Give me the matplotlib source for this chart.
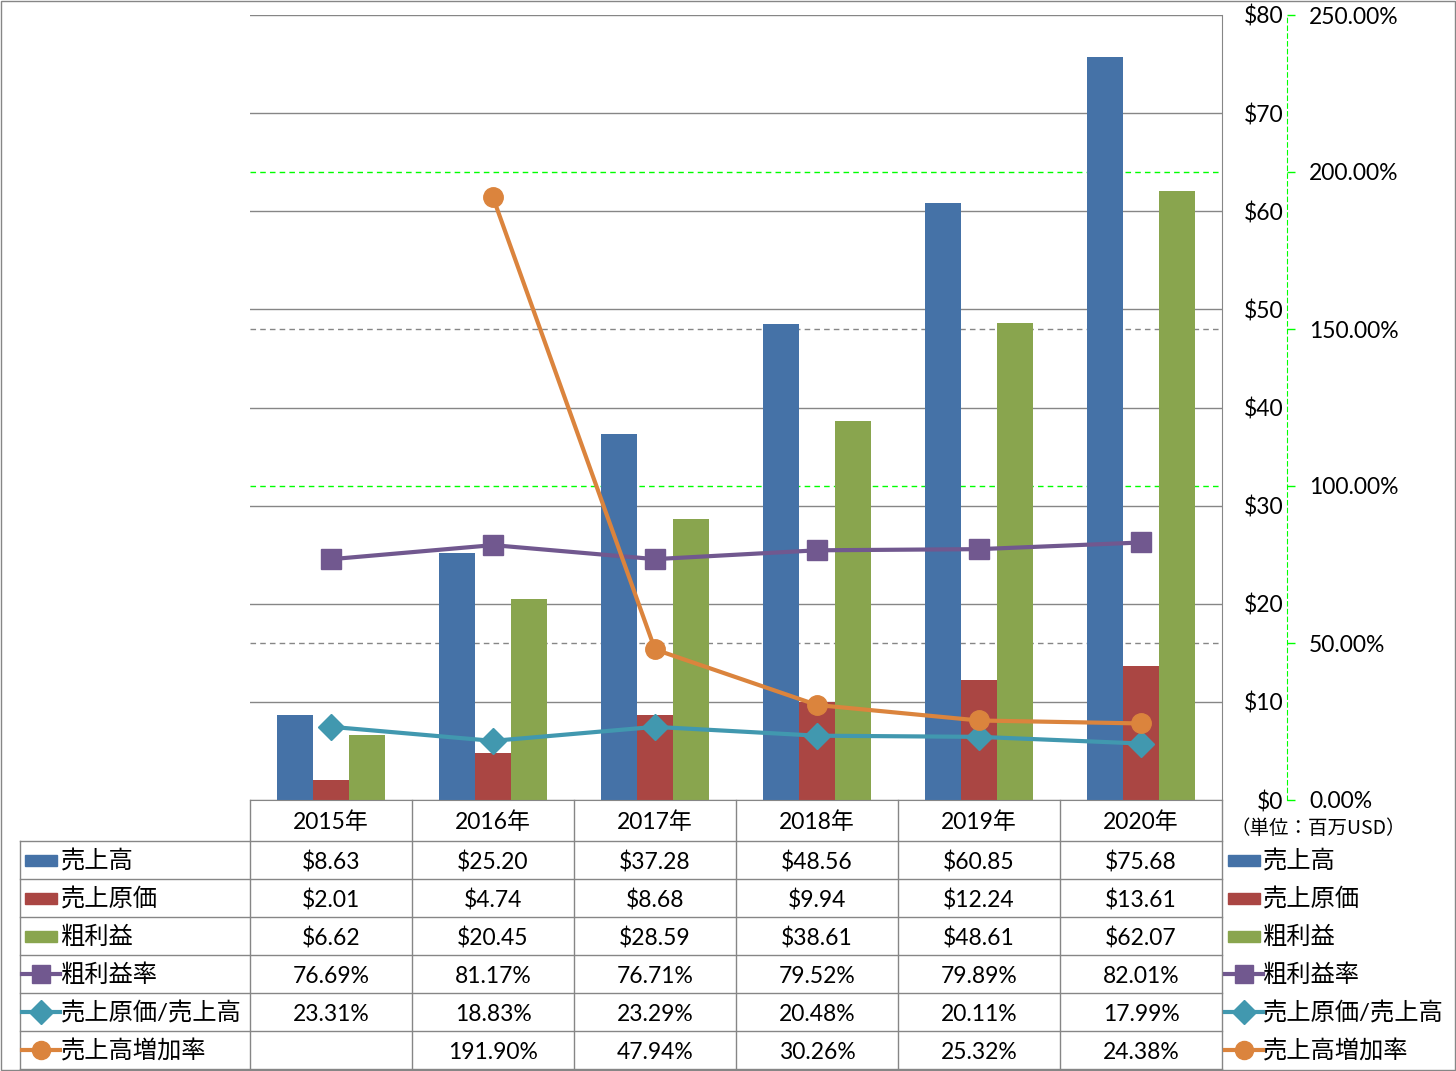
import numpy as np
import matplotlib
matplotlib.use("Agg")
import matplotlib.pyplot as plt
import matplotlib.transforms as mtransforms
from matplotlib.patches import Rectangle
from matplotlib.lines import Line2D

# ---------------- data ----------------
years = ["2015年", "2016年", "2017年", "2018年", "2019年", "2020年"]
revenue = [8.63, 25.20, 37.28, 48.56, 60.85, 75.68]
cogs = [2.01, 4.74, 8.68, 9.94, 12.24, 13.61]
gross = [6.62, 20.45, 28.59, 38.61, 48.61, 62.07]
gross_margin = [76.69, 81.17, 76.71, 79.52, 79.89, 82.01]
cogs_ratio = [23.31, 18.83, 23.29, 20.48, 20.11, 17.99]
growth = [None, 191.90, 47.94, 30.26, 25.32, 24.38]
series_names = ["売上高", "売上原価", "粗利益", "粗利益率", "売上原価/売上高", "売上高増加率"]
left_ticks = [0, 10, 20, 30, 40, 50, 60, 70, 80]
right_ticks = [0, 50, 100, 150, 200, 250]
unit_label = "（単位：百万USD）"

# ---------------- style ----------------
C_BLUE, C_RED, C_GREEN = "#4572A7", "#AA4643", "#89A54E"
C_PURPLE, C_TEAL, C_ORANGE = "#71588F", "#4198AF", "#DB843D"
GRID = "#868686"
LIME = "#00FF00"
FONT = ["Lato", "Noto Sans CJK JP", "DejaVu Sans"]
plt.rcParams["font.family"] = FONT
FS = 16.5
FS_JP = 17.5

W, H = 1456, 1071
fig = plt.figure(figsize=(W / 100, H / 100), dpi=100)

ax = fig.add_axes([250 / W, (H - 800) / H, 972 / W, 785 / H])
ax2 = ax.twinx()

ax.set_xlim(-0.5, 5.5)
ax.set_ylim(0, 80)
ax.set_axisbelow(True)
for s in ["left", "top"]:
    ax.spines[s].set_visible(False)
ax.spines["right"].set_color(GRID)
ax.spines["bottom"].set_color(GRID)
ax.set_xticks([])
ax.yaxis.tick_right()
ax.set_yticks(left_ticks)
ax.set_yticklabels([f"${v}" for v in left_ticks], ha="right", fontsize=FS)
ax.tick_params(axis="y", length=0, pad=44, left=False, right=False,
               labelleft=False, labelright=True)
ax.yaxis.grid(True, color=GRID, lw=1)

x = np.arange(len(years))
bw = 0.222
ax.bar(x - bw, revenue, bw, color=C_BLUE, zorder=2)
ax.bar(x, cogs, bw, color=C_RED, zorder=2)
ax.bar(x + bw, gross, bw, color=C_GREEN, zorder=2)

ax2.set_ylim(0, 250)
for s in ["left", "top", "bottom"]:
    ax2.spines[s].set_visible(False)
ax2.spines["right"].set_position(("outward", 46.8))
ax2.spines["right"].set_color(LIME)
ax2.spines["right"].set_linestyle((0, (4, 3)))
ax2.set_yticks(right_ticks)
ax2.set_yticklabels([f"{v:.2f}%" for v in right_ticks], fontsize=FS)
ax2.tick_params(axis="y", color=LIME, length=5.5, width=1, pad=10.5)

# secondary gridlines drawn behind bars
blend = mtransforms.blended_transform_factory(ax.transAxes, ax2.transData)
for v in [50, 150]:
    ax.plot([0, 1], [v, v], transform=blend, color=GRID, lw=1, ls=(0, (4, 3)), zorder=1)
for v in [100, 200]:
    ax.plot([0, 1], [v, v], transform=blend, color=LIME, lw=1, ls=(0, (4, 3)), zorder=1)

gx = [xi for xi, g in zip(x, growth) if g is not None]
gy = [g for g in growth if g is not None]
ax2.plot(x, gross_margin, color=C_PURPLE, lw=3, marker="s", ms=14, zorder=3)
ax2.plot(x, cogs_ratio, color=C_TEAL, lw=3, marker="D", ms=13, zorder=3)
ax2.plot(gx, gy, color=C_ORANGE, lw=3, marker="o", ms=14, zorder=3)

# ---------------- table overlay ----------------
tab = fig.add_axes([0, 0, 1, 1], facecolor="none")
tab.set_xlim(0, W)
tab.set_ylim(H, 0)
tab.axis("off")

rows_y = [800, 841, 879, 917, 955, 993, 1031, 1069]
cols_x = [250 + 162 * i for i in range(7)]
cols_x[-1] = 1222

def hline(x0, x1, y):
    tab.add_line(Line2D([x0, x1], [y, y], color=GRID, lw=1))

def vline(xv, y0, y1):
    tab.add_line(Line2D([xv, xv], [y0, y1], color=GRID, lw=1))

for y in rows_y[1:]:
    hline(20, 1222, y)
vline(20, rows_y[1], rows_y[-1])
for xv in cols_x:
    vline(xv, 800, rows_y[-1])

centers = [(cols_x[i] + cols_x[i + 1]) / 2 for i in range(6)]
for cx, yr in zip(centers, years):
    tab.text(cx, 822, yr, ha="center", va="center", fontsize=FS)

table_rows = [
    [f"${v:.2f}" for v in revenue],
    [f"${v:.2f}" for v in cogs],
    [f"${v:.2f}" for v in gross],
    [f"{v:.2f}%" for v in gross_margin],
    [f"{v:.2f}%" for v in cogs_ratio],
    ["" if v is None else f"{v:.2f}%" for v in growth],
]
for r, vals in enumerate(table_rows):
    cy = (rows_y[r + 1] + rows_y[r + 2]) / 2
    for cx, s in zip(centers, vals):
        tab.text(cx, cy + 2.5, s, ha="center", va="center", fontsize=FS)

key_styles = [
    ("bar", C_BLUE, None), ("bar", C_RED, None), ("bar", C_GREEN, None),
    ("line", C_PURPLE, "s"), ("line", C_TEAL, "D"), ("line", C_ORANGE, "o"),
]

def draw_key(x0, cy, style, color, marker):
    if style == "bar":
        tab.add_patch(Rectangle((x0 + 3, cy - 5.5), 32, 11, color=color))
    else:
        tab.add_line(Line2D([x0, x0 + 38], [cy, cy], color=color, lw=3))
        ms = {"s": 13, "D": 12, "o": 13}[marker]
        tab.add_line(Line2D([x0 + 19], [cy], color=color, marker=marker, ms=ms, lw=0))

for r, (name, (st, col, mk)) in enumerate(zip(series_names, key_styles)):
    cy = (rows_y[r + 1] + rows_y[r + 2]) / 2
    draw_key(22, cy, st, col, mk)
    tab.text(61, cy + 1, name, ha="left", va="center", fontsize=FS_JP)
    draw_key(1225, cy, st, col, mk)
    tab.text(1263, cy + 1, name, ha="left", va="center", fontsize=FS_JP)

tab.text(1231, 828, unit_label, ha="left", va="center", fontsize=14,
         family=["Noto Sans CJK JP", "DejaVu Sans"])

tab.add_patch(Rectangle((0.5, 0.5), W - 1.5, H - 1.5, fill=False, edgecolor=GRID, lw=1))

fig.savefig("out.png", dpi=100)
